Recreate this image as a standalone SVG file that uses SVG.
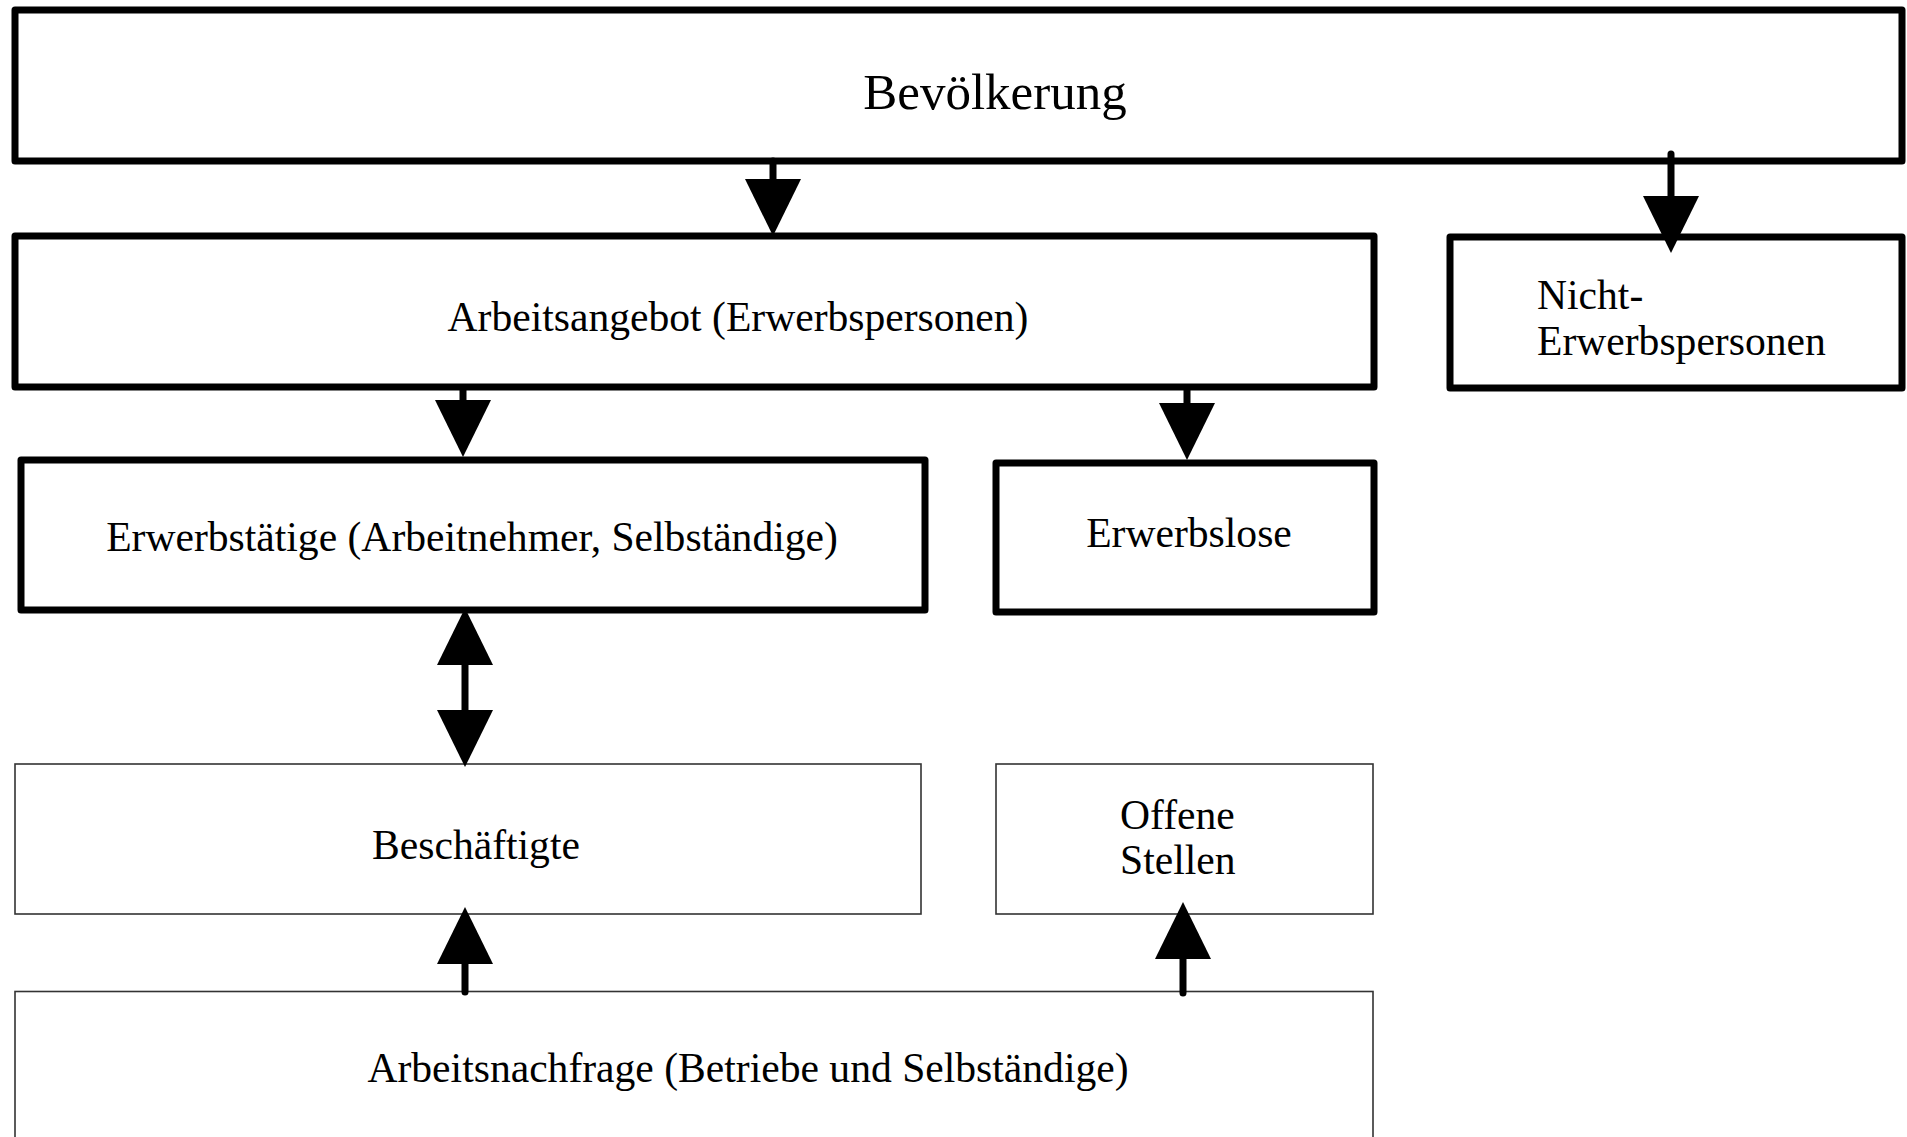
<svg xmlns="http://www.w3.org/2000/svg" width="1907" height="1137" viewBox="0 0 1907 1137">
<style>
.thick{fill:#fff;stroke:#000;stroke-width:7;stroke-linejoin:round}
.thin{fill:#fff;stroke:#333;stroke-width:1.6}
text{font-family:"Liberation Serif","Times New Roman",serif;font-size:41.6px;fill:#000}
.c{text-anchor:middle}
.conn line{stroke:#000;stroke-width:7;stroke-linecap:round}
</style>
<defs>
<marker id="ah" markerUnits="userSpaceOnUse" markerWidth="57" markerHeight="56" refX="7" refY="28" orient="auto-start-reverse" overflow="visible">
<path d="M0,0 L57,28 L0,56 Z" fill="#000"/>
</marker>
</defs>
<g id="n-bevoelkerung">
<rect class="thick" x="15" y="10" width="1887" height="151"/>
<text class="c" x="995" y="109" style="font-size:51px">Bevölkerung</text>
</g>
<g id="n-arbeitsangebot">
<rect class="thick" x="15" y="236" width="1359" height="151"/>
<text class="c" x="738" y="331">Arbeitsangebot (Erwerbspersonen)</text>
</g>
<g id="n-nichterwerbspersonen">
<rect class="thick" x="1450" y="237" width="452" height="151"/>
<text x="1537" y="309">Nicht-</text>
<text x="1537" y="355">Erwerbspersonen</text>
</g>
<g id="n-erwerbstaetige">
<rect class="thick" x="21" y="460" width="904" height="150"/>
<text class="c" x="472" y="551">Erwerbstätige (Arbeitnehmer, Selbständige)</text>
</g>
<g id="n-erwerbslose">
<rect class="thick" x="996" y="463" width="378" height="149"/>
<text class="c" x="1189" y="547">Erwerbslose</text>
</g>
<g id="n-beschaeftigte">
<rect class="thin" x="15" y="764" width="906" height="150"/>
<text class="c" x="476" y="859">Beschäftigte</text>
</g>
<g id="n-offenestellen">
<rect class="thin" x="996" y="764" width="377" height="150"/>
<text x="1120" y="829">Offene</text>
<text x="1120" y="874">Stellen</text>
</g>
<g id="n-arbeitsnachfrage">
<rect class="thin" x="15" y="991.5" width="1358" height="200"/>
<text class="c" x="748" y="1082">Arbeitsnachfrage (Betriebe und Selbständige)</text>
</g>
<g id="connectors" class="conn">
<line x1="773" y1="161" x2="773" y2="186" marker-end="url(#ah)"/>
<line x1="1671" y1="154" x2="1671" y2="203" marker-end="url(#ah)"/>
<line x1="463" y1="388" x2="463" y2="407" marker-end="url(#ah)"/>
<line x1="1187" y1="389" x2="1187" y2="410" marker-end="url(#ah)"/>
<line x1="465" y1="658" x2="465" y2="717" marker-start="url(#ah)" marker-end="url(#ah)"/>
<line x1="465" y1="992" x2="465" y2="957" marker-end="url(#ah)"/>
<line x1="1183" y1="993" x2="1183" y2="952" marker-end="url(#ah)"/>
</g>
</svg>
